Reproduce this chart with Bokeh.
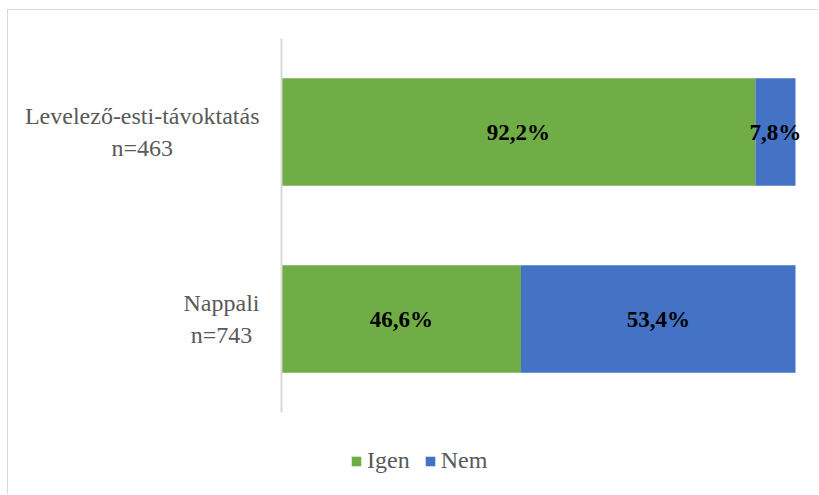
from bokeh.plotting import figure
from bokeh.models import ColumnDataSource, Range1d, Legend, LegendItem
from bokeh.core.properties import value
from bokeh.embed import file_html
from bokeh.resources import INLINE

categories = ["Nappali\nn=743", "Levelező-esti-távoktatás\nn=463"]
series = ["Igen", "Nem"]
igen = [46.6, 92.2]
nem = [53.4, 7.8]
igen_labels = ["46,6%", "92,2%"]
nem_labels = ["53,4%", "7,8%"]
colors = ["#70AD47", "#4472C4"]

SERIF = "Liberation Serif"
GRID = "#d9d9d9"

pos = list(range(len(categories)))
src = ColumnDataSource(dict(y=pos, cat=categories, Igen=igen, Nem=nem))

# the frame covers the whole chart area; value 0 sits where the axis line is drawn
p = figure(width=811, height=485, x_range=Range1d(-53.11, 104.67), y_range=Range1d(-0.944, 1.65),
           output_backend="svg", toolbar_location=None,
           min_border_left=0, min_border_right=0, min_border_top=0, min_border_bottom=0)
p.styles = {"margin-left": "7px", "margin-top": "9px",
            "border-left": f"1px solid {GRID}", "border-top": f"1px solid {GRID}"}

rs = p.hbar_stack(series, y="y", height=0.574, color=colors, source=src, line_color=None)

# category axis line spanning the category bands
p.segment(x0=[0], x1=[0], y0=[-0.5], y1=[len(categories) - 0.5], line_color=GRID, line_width=2)

lab_src = ColumnDataSource(dict(
    y=pos + pos,
    x=[v / 2 for v in igen] + [a + b / 2 for a, b in zip(igen, nem)],
    t=igen_labels + nem_labels,
))
p.text(x="x", y="y", text="t", source=lab_src, text_align="center", text_baseline="middle",
       text_font=value(SERIF), text_font_style="bold", text_font_size="23px",
       text_color="black")

# category labels: block right-aligned to the axis, lines centred within the block
cat_src = ColumnDataSource(dict(y=pos, cat=categories, x=[0] * len(categories)))
p.text(x="x", y="y", text="cat", source=cat_src, anchor="center_right", text_align="center",
       text_baseline="middle", x_offset=-22, text_line_height=1.2,
       text_font=value(SERIF), text_font_size="24px", text_color="#595959")

p.axis.visible = False
p.grid.visible = False
p.outline_line_color = None

legend = Legend(items=[LegendItem(label=s, renderers=[r]) for s, r in zip(series, rs)],
                orientation="horizontal", location=(342, 21),
                padding=0, margin=0, border_line_color=None, background_fill_alpha=0,
                glyph_width=12, glyph_height=12, label_standoff=5, spacing=14,
                label_text_font=SERIF, label_text_font_size="24px",
                label_text_color="#595959")
p.add_layout(legend, "center")

open("out.html", "w").write(file_html(p, INLINE))
